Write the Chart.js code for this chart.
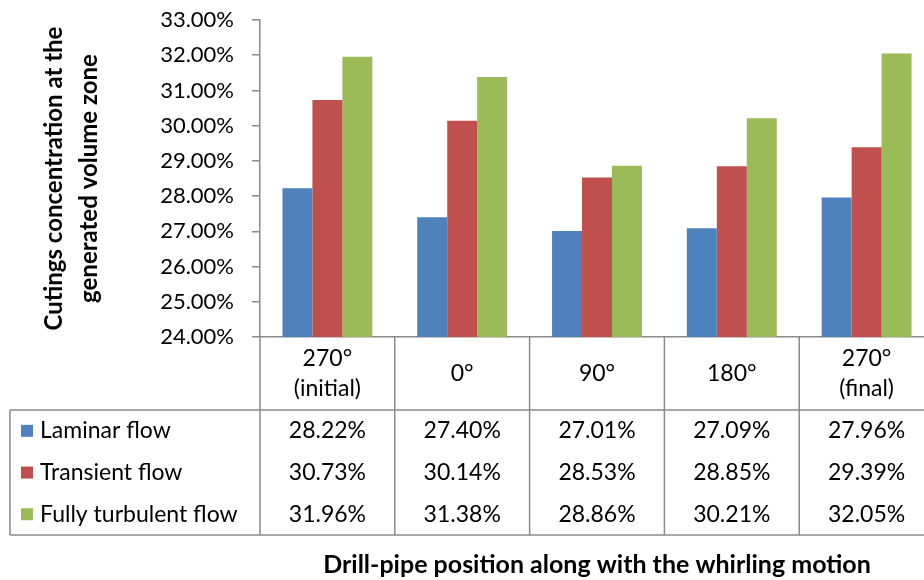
<!DOCTYPE html>
<html>
<head>
<meta charset="utf-8">
<script src="https://cdn.jsdelivr.net/npm/chart.js@4.4.1/dist/chart.umd.min.js"></script>
<style>
  html, body { margin: 0; padding: 0; background: #fff; overflow: hidden; }
  #wrap { width: 934px; height: 580px; }
</style>
</head>
<body>
<div id="wrap"><canvas id="mainChart" width="934" height="580"></canvas></div>
<script>
// 横軸の区分（ドリルパイプ位置）
const categories = [['270°', '(initial)'], ['0°'], ['90°'], ['180°'], ['270°', '(final)']];
// 系列名
const seriesNames = ['Laminar flow', 'Transient flow', 'Fully turbulent flow'];
// 各系列の値（割合）
const laminar = [0.2822, 0.2740, 0.2701, 0.2709, 0.2796];
const transient = [0.3073, 0.3014, 0.2853, 0.2885, 0.2939];
const turbulent = [0.3196, 0.3138, 0.2886, 0.3021, 0.3205];
// 目盛
const yMin = 0.24, yMax = 0.33, yStep = 0.01;

const colors = ['#4F81BD', '#C0504D', '#9BBB59'];
const gridGray = '#8a8a8a';
const fontFamily = 'Lato, "Open Sans", sans-serif';

function pct(v) {
    return (v * 100).toFixed(2) + '%';
}

// データテーブルとX軸タイトルを描くプラグイン
const dataTablePlugin = {
    id: 'dataTable',
    afterDraw(chart) {
        const ctx = chart.ctx;
        const x = chart.scales.x;
        const area = chart.chartArea;
        const half = (x.getPixelForValue(1) - x.getPixelForValue(0)) / 2;
        const headTop = area.bottom;
        const headBottom = headTop + 73;
        const rowH = 41.7;
        const tableBottom = headBottom + rowH * 3;
        const tableLeft = 10;

        ctx.save();
        ctx.strokeStyle = gridGray;
        ctx.lineWidth = 1.5;

        // 横線
        ctx.beginPath();
        ctx.moveTo(tableLeft, headBottom);
        ctx.lineTo(chart.width, headBottom);
        ctx.moveTo(tableLeft, tableBottom);
        ctx.lineTo(chart.width, tableBottom);
        // 左端
        ctx.moveTo(tableLeft, headBottom);
        ctx.lineTo(tableLeft, tableBottom);
        // 区切り線
        for (let i = 0; i <= categories.length; i++) {
            const px = x.getPixelForValue(0) - half + i * half * 2;
            ctx.moveTo(px, headTop);
            ctx.lineTo(px, tableBottom);
        }
        ctx.stroke();

        ctx.fillStyle = '#000';
        ctx.font = '23px ' + fontFamily;
        ctx.textAlign = 'center';
        ctx.textBaseline = 'middle';

        // 見出し
        const headMid = (headTop + headBottom) / 2;
        categories.forEach((lines, i) => {
            const px = x.getPixelForValue(i);
            const start = headMid - (lines.length - 1) * 15;
            lines.forEach((t, j) => ctx.fillText(t, px, start + j * 30));
        });

        // 値と凡例
        const allData = [laminar, transient, turbulent];
        allData.forEach((arr, r) => {
            const cy = headBottom + rowH * (r + 0.5);
            ctx.fillStyle = colors[r];
            ctx.fillRect(21, cy - 6, 12, 12);
            ctx.fillStyle = '#000';
            ctx.textAlign = 'left';
            ctx.fillText(seriesNames[r], 40, cy);
            ctx.textAlign = 'center';
            arr.forEach((v, i) => {
                ctx.fillText(pct(v), x.getPixelForValue(i), cy);
            });
        });

        // X軸タイトル
        ctx.font = 'bold 25px ' + fontFamily;
        ctx.fillText('Drill-pipe position along with the whirling motion', (area.left + area.right) / 2, 565);
        ctx.restore();
    }
};

var chrt = document.getElementById('mainChart').getContext('2d');
var mainChart = new Chart(chrt, {
    type: 'bar',
    data: {
        labels: categories,
        datasets: [{
            label: seriesNames[0],
            data: laminar,
            backgroundColor: colors[0],
        }, {
            label: seriesNames[1],
            data: transient,
            backgroundColor: colors[1],
        }, {
            label: seriesNames[2],
            data: turbulent,
            backgroundColor: colors[2],
        }],
    },
    options: {
        responsive: false,
        animation: false,
        datasets: {
            bar: {
                categoryPercentage: 0.667,
                barPercentage: 1,
                borderWidth: 0,
            }
        },
        layout: {
            padding: { left: 0, right: 0, top: 20, bottom: 243 }
        },
        plugins: {
            legend: { display: false },
            tooltip: { enabled: false },
        },
        scales: {
            x: {
                ticks: { display: false },
                grid: { display: false, drawTicks: false },
                border: { display: true, color: gridGray, width: 1.5 },
            },
            y: {
                min: yMin,
                max: yMax,
                afterFit: function(scale) {
                    scale.width = 260;
                    scale.paddingTop = 0;
                    scale.paddingBottom = 0;
                },
                ticks: {
                    stepSize: yStep,
                    padding: 18,
                    color: '#000',
                    font: { family: fontFamily, size: 22 },
                    callback: function(value) { return pct(value); }
                },
                grid: {
                    drawOnChartArea: false,
                    drawTicks: true,
                    tickLength: 8,
                    color: gridGray,
                    lineWidth: 1.5,
                },
                border: { display: true, color: gridGray, width: 1.5 },
                title: {
                    display: true,
                    text: ['Cutings concentration at the', 'generated volume zone'],
                    color: '#000',
                    font: { family: fontFamily, size: 24, weight: 'bold', lineHeight: 1.46 },
                    padding: { top: 37, bottom: 0 },
                },
            },
        },
    },
    plugins: [dataTablePlugin],
});
</script>
</body>
</html>
